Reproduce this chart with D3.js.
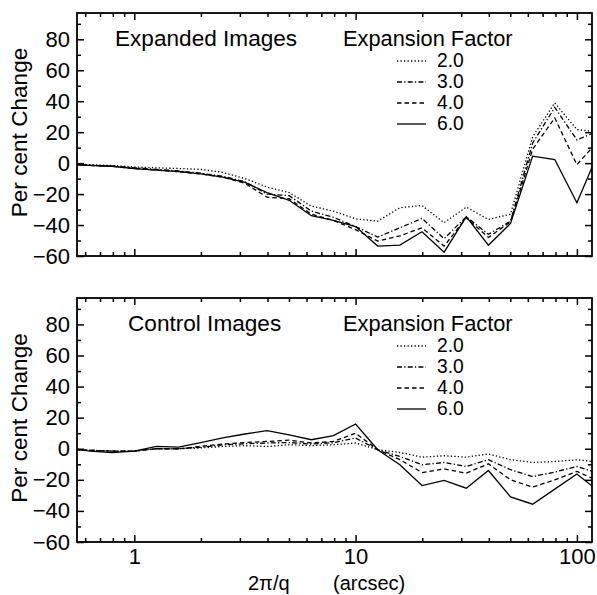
<!DOCTYPE html>
<html><head><meta charset="utf-8">
<script src="https://cdn.jsdelivr.net/npm/d3@7"></script>
<style>body{margin:0;background:#fff}svg{display:block}text{font-family:"Liberation Sans",Arial,Helvetica,sans-serif;fill:#000}</style>
</head><body>
<script>
// x grid: 10^(k/10), k=-3..21  (2π/q in arcsec)
const xExp = [-3,-2,-1,0,1,2,3,4,5,6,7,8,9,10,11,12,13,14,15,16,17,18,19,20,21];
const factors = ["2.0","3.0","4.0","6.0"];
const dashes = ["1.3,2.2","5,2.2,1.3,2.2","4.5,3",null];

const topF2 = [-0.5,-1,-1.5,-2.5,-3,-3.5,-4,-6,-10,-15.5,-19,-27.8,-31,-36,-37.5,-28.8,-27.4,-38.5,-28.4,-36.4,-33,17,38.9,21.7,20];
const topF3 = [-0.5,-1.5,-2,-3,-4,-5,-6.5,-8.5,-12,-20,-21,-31,-35,-41,-47.8,-41.8,-35.7,-48.8,-34.6,-46,-37.5,13,36,15,21];
const topF4 = [0,-1.5,-2,-3.5,-4.5,-5.5,-7,-9,-13,-22,-23,-33,-37,-43,-50.4,-47,-41.8,-53.6,-35.3,-48,-38,9,29.2,-1,15];
const topF6 = [-1,-1.5,-2,-3.5,-4.5,-5.5,-7,-9,-12.5,-19,-24,-34,-37,-41,-53.6,-53,-44.3,-57.5,-34.6,-53,-39,4.5,2.3,-25.6,8];

const botF2 = [-1,-1,-1.5,-1.5,0,0,0.5,1.5,2,1.5,2.6,2,2.6,3.7,-0.6,-2.4,-5.4,-4.5,-5.4,-3.4,-7,-8.8,-8.2,-7.1,-8.6];
const botF3 = [-0.5,-1,-1.5,-1.5,0,0,1,2.5,3.2,3.7,4,3,3.9,6.9,-0.6,-5,-10.3,-8.8,-11.4,-7,-13.5,-17.9,-15,-11.4,-16];
const botF4 = [0,-1,-1.5,-1.5,0,0,1.5,3,4,4.7,5.5,3.7,4.7,10,-0.6,-7,-15.3,-13,-15.7,-9.7,-20,-24.7,-20,-14.6,-21];
const botF6 = [0.5,-1.5,-2.5,-1.5,1.5,1,4,7,9.5,11.6,9,5.8,8.4,15.9,-0.6,-10.3,-23.7,-20.4,-25.4,-14,-31,-35.7,-26,-16.3,-27.5];

const yTicks = [-60,-40,-20,0,20,40,60,80];
const xTickLabels = ["1","10","100"];
const panelTitles = ["Expanded Images","Control Images"];

const W = 597, H = 595;
const svg = d3.select("body").append("svg").attr("width",W).attr("height",H);
const left = 77, right = 592;
const x = d3.scaleLog().domain([0.551, 117]).range([left, right]);
const xVals = xExp.map(k => Math.pow(10, k/10));

const panels = [
  {top:13, bottom:256, series:[topF2,topF3,topF4,topF6], title:panelTitles[0], titleX:115, xlabels:false},
  {top:298, bottom:542, series:[botF2,botF3,botF4,botF6], title:panelTitles[1], titleX:128, xlabels:true}
];

const fsTick = 22, fsTitle = 22.6, fsLegT = 21.8, fsLeg = 19.3;
panels.forEach((p,i) => {
  const y = d3.scaleLinear().domain([-60, 97]).range([p.bottom, p.top]);
  const g = svg.append("g");
  const cid = "clip"+i;
  svg.append("clipPath").attr("id",cid).append("rect")
    .attr("x",left).attr("y",p.top).attr("width",right-left).attr("height",p.bottom-p.top);

  const line = d3.line().x((d,j)=>x(xVals[j])).y(d=>y(d));
  p.series.forEach((s,si) => {
    g.append("path").attr("d", line(s)).attr("clip-path","url(#"+cid+")")
      .attr("fill","none").attr("stroke","#000").attr("stroke-width",1.3)
      .attr("stroke-dasharray", dashes[si]);
  });

  const minorX = [];
  [0.1,1,10,100].forEach(d => { for(let m=2;m<=9;m++){ const v=d*m; if(v>0.551 && v<117) minorX.push(v);} });
  const majorX = [1,10,100];
  const minorY = d3.range(-50, 97, 20);

  const axB = d3.axisBottom(x).tickValues(majorX).tickSizeInner(-7).tickSizeOuter(0).tickFormat((d,j)=> p.xlabels ? xTickLabels[j] : "");
  const axBm = d3.axisBottom(x).tickValues(minorX).tickSizeInner(-4).tickSizeOuter(0).tickFormat("");
  const axT = d3.axisTop(x).tickValues(majorX).tickSizeInner(-7).tickSizeOuter(0).tickFormat("");
  const axTm = d3.axisTop(x).tickValues(minorX).tickSizeInner(-4).tickSizeOuter(0).tickFormat("");
  const axL = d3.axisLeft(y).tickValues(yTicks).tickSizeInner(-7).tickSizeOuter(0).tickPadding(7);
  const axLm = d3.axisLeft(y).tickValues(minorY).tickSizeInner(-4).tickSizeOuter(0).tickFormat("");
  const axR = d3.axisRight(y).tickValues(yTicks).tickSizeInner(-7).tickSizeOuter(0).tickFormat("");
  const axRm = d3.axisRight(y).tickValues(minorY).tickSizeInner(-4).tickSizeOuter(0).tickFormat("");

  const gb = g.append("g").attr("transform",`translate(0,${p.bottom})`);
  gb.call(axB); gb.append("g").call(axBm);
  const gt = g.append("g").attr("transform",`translate(0,${p.top})`);
  gt.call(axT); gt.append("g").call(axTm);
  const gl = g.append("g").attr("transform",`translate(${left},0)`);
  gl.call(axL); gl.append("g").call(axLm);
  const gr = g.append("g").attr("transform",`translate(${right},0)`);
  gr.call(axR); gr.append("g").call(axRm);

  g.selectAll(".domain").remove();
  g.selectAll(".tick line").attr("stroke","#000").attr("stroke-width",1.5);
  g.selectAll(".tick text").attr("font-size",fsTick).attr("font-family","Liberation Sans, Arial, sans-serif").attr("fill","#000");
  gb.selectAll(".tick text").attr("dy",null).attr("y",22);

  g.append("rect").attr("x",left).attr("y",p.top).attr("width",right-left).attr("height",p.bottom-p.top)
    .attr("fill","none").attr("stroke","#000").attr("stroke-width",1.8);

  g.append("text").attr("transform",`translate(27,${(p.top+p.bottom)/2 - 2}) rotate(-90)`)
    .attr("text-anchor","middle").attr("font-size",fsTitle).text("Per cent Change");

  g.append("text").attr("x",p.titleX).attr("y",p.top+33).attr("font-size",fsTitle).text(p.title);

  g.append("text").attr("x",343).attr("y",p.top+33).attr("font-size",fsLegT).text("Expansion Factor");
  factors.forEach((f,fi) => {
    const by = p.top + 54 + fi*21;
    g.append("line").attr("x1",397).attr("x2",426).attr("y1",by-6).attr("y2",by-6)
      .attr("stroke","#000").attr("stroke-width",1.3).attr("stroke-dasharray",dashes[fi]);
    g.append("text").attr("x",437).attr("y",by).attr("font-size",fsLeg).text(f);
  });
});

svg.append("text").attr("x",248).attr("y",590).attr("font-size",20).text("2π/q");
svg.append("text").attr("x",333).attr("y",590).attr("font-size",20).text("(arcsec)");
</script>
</body></html>
